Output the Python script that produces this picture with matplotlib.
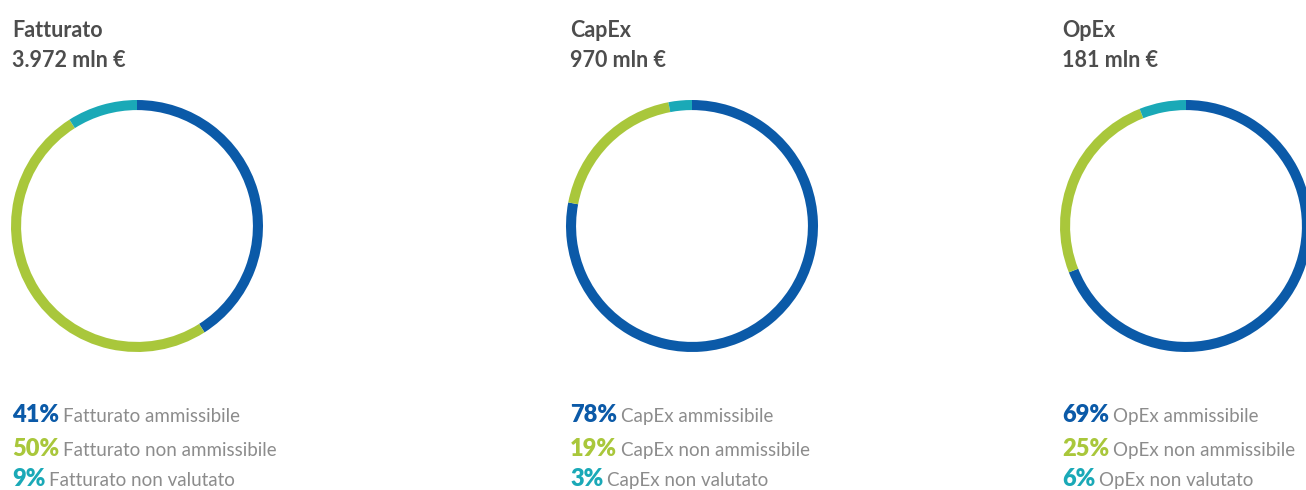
import matplotlib.pyplot as plt

# chart data
titles = ["Fatturato", "CapEx", "OpEx"]
totals = ["3.972 mln €", "970 mln €", "181 mln €"]
labels = ["ammissibile", "non ammissibile", "non valutato"]
fatturato = [41, 50, 9]
capex = [78, 19, 3]
opex = [69, 25, 6]
values = [fatturato, capex, opex]

colors = ["#0b5aa8", "#a9c73b", "#1aa9b7"]
title_col = "#4d4d4d"
text_col = "#8c8c8c"

W, H = 1306, 490
plt.rcParams['font.family'] = ['Lato', 'DejaVu Sans']
fig = plt.figure(figsize=(W / 100, H / 100), dpi=100)

# pixel positions (left x of block, ring center x)
left_x = [12, 570, 1062]
centers = [137, 692, 1186]
cy = 226
r = 126
baselines = [422, 456, 486]

pct_texts = []
for i in range(3):
    cx = centers[i]
    ax = fig.add_axes([(cx - r) / W, (H - cy - r) / H, 2 * r / W, 2 * r / H])
    ax.pie(values[i], colors=colors, startangle=90, counterclock=False,
           radius=1, wedgeprops=dict(width=0.08, edgecolor='none'))
    ax.set_xlim(-1.0, 1.0)
    ax.set_ylim(-1.0, 1.0)
    ax.set_aspect('equal')
    ax.axis('off')

    x = left_x[i] / W
    fig.text(x, 1 - 37 / H, titles[i], fontsize=15.5, fontweight='bold',
             color=title_col, va='baseline', ha='left')
    fig.text(x, 1 - 67 / H, totals[i], fontsize=15.5, fontweight='bold',
             color=title_col, va='baseline', ha='left')

    for j, yb in enumerate(baselines):
        t = fig.text(x, 1 - yb / H, f"{values[i][j]}%", fontsize=17,
                     fontweight='heavy', color=colors[j], va='baseline',
                     ha='left')
        pct_texts.append((t, f"{titles[i]} {labels[j]}", yb))

# put the descriptive text right after each percentage, same baseline
fig.canvas.draw()
renderer = fig.canvas.get_renderer()
for t, s, yb in pct_texts:
    bb = t.get_window_extent(renderer)
    fig.text((bb.x1 + 4) / W, 1 - yb / H, s, fontsize=13.5,
             fontweight='normal', color=text_col, va='baseline', ha='left')

fig.savefig("out.png", dpi=100)
